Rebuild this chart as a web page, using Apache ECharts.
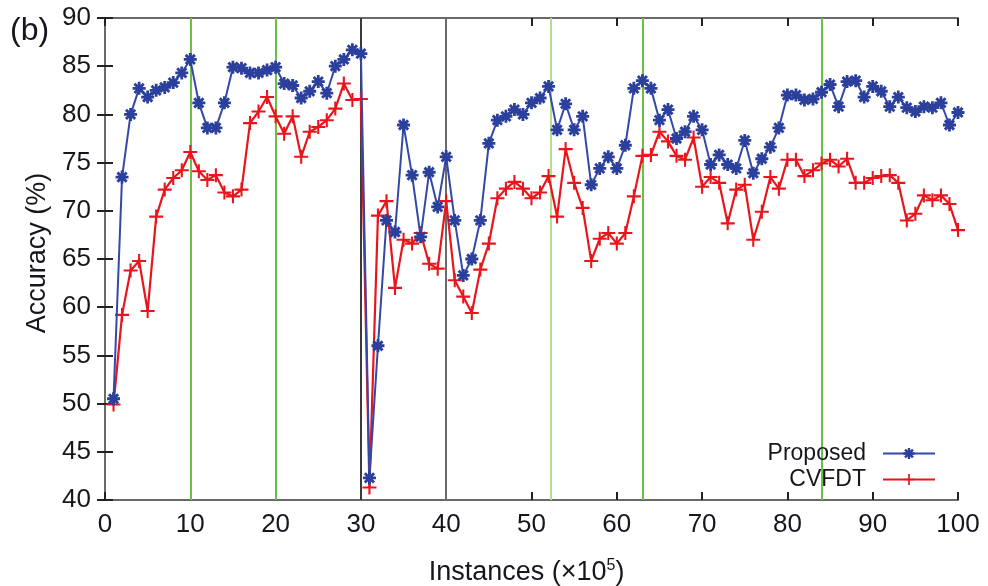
<!DOCTYPE html>
<html>
<head>
<meta charset="utf-8">
<script src="https://cdn.jsdelivr.net/npm/echarts@6/dist/echarts.min.js"></script>
<style>
  html, body { margin: 0; padding: 0; background: #fff; }
  #chart { width: 988px; height: 586px; }
</style>
</head>
<body>
<div id="chart"></div>
<script>
// x positions (×10^5 instances)
const instances = [1,2,3,4,5,6,7,8,9,10,11,12,13,14,15,16,17,18,19,20,
  21,22,23,24,25,26,27,28,29,30,31,32,33,34,35,36,37,38,39,40,
  41,42,43,44,45,46,47,48,49,50,51,52,53,54,55,56,57,58,59,60,
  61,62,63,64,65,66,67,68,69,70,71,72,73,74,75,76,77,78,79,80,
  81,82,83,84,85,86,87,88,89,90,91,92,93,94,95,96,97,98,99,100];

const proposed = [50.5,73.5,80.0,82.7,81.8,82.5,82.8,83.3,84.3,85.7,
  81.2,78.6,78.6,81.2,84.9,84.8,84.3,84.3,84.6,84.9,
  83.2,83.0,81.7,82.4,83.4,82.2,85.0,85.7,86.7,86.3,
  42.3,56.0,69.0,67.8,78.9,73.7,67.3,74.0,70.4,75.6,
  69.0,63.3,65.0,69.0,77.0,79.4,79.8,80.5,80.0,81.2,
  81.7,82.9,78.4,81.1,78.4,79.8,72.7,74.4,75.6,74.4,
  76.8,82.7,83.5,82.7,79.4,80.5,77.5,78.2,79.8,78.4,
  74.8,75.8,74.8,74.4,77.3,73.9,75.4,76.6,78.6,82.0,
  82.0,81.5,81.6,82.3,83.1,80.8,83.4,83.5,81.8,82.9,
  82.4,80.8,81.8,80.7,80.3,80.8,80.7,81.2,78.9,80.2];

const cvfdt = [49.9,59.2,63.8,64.8,59.6,69.4,72.2,73.4,74.2,76.1,
  74.1,73.2,73.7,71.9,71.5,72.2,79.1,80.3,81.8,79.8,
  78.0,79.8,75.6,78.2,78.7,79.4,80.6,83.2,81.5,81.6,
  41.3,69.5,71.0,62.0,67.0,66.6,67.7,64.5,64.0,71.0,
  62.8,61.1,59.4,63.9,66.6,71.3,72.3,73.0,72.3,71.3,
  71.9,73.6,69.4,76.4,72.9,70.3,64.8,67.1,67.7,66.6,
  67.7,71.5,75.7,75.8,78.2,77.2,75.7,75.3,77.6,72.5,
  73.5,72.9,68.7,72.2,72.7,67.0,69.9,73.5,72.3,75.3,
  75.3,73.6,74.2,74.9,75.3,74.6,75.4,72.9,72.9,73.4,
  73.6,73.7,72.9,69.0,69.7,71.6,71.1,71.6,70.7,68.0];

// vertical reference lines (drift points)
const driftX = [10, 20, 30, 40, 52.2, 63, 84];
const driftColors = ['#6cbf45', '#6cbf45', '#3a3a3a', '#6a6a6a', '#b2df95', '#6cbf45', '#6cbf45'];

const seriesNames = ['Proposed', 'CVFDT'];
const xTicks = { min: 0, max: 100, step: 10 };
const yTicks = { min: 40, max: 90, step: 5 };

const FONT = "'Liberation Sans', Arial, sans-serif";
const TXT = '#16161e';
const asterisk = 'path://M-1.3,-6L1.3,-6L1.3,6L-1.3,6Z M-6,-1.3L6,-1.3L6,1.3L-6,1.3Z M-5.2,-3.3L-3.3,-5.2L5.2,3.3L3.3,5.2Z M3.3,-5.2L5.2,-3.3L-3.3,5.2L-5.2,3.3Z';
const plus = 'path://M-0.9,-6L0.9,-6L0.9,6L-0.9,6Z M-6,-0.9L6,-0.9L6,0.9L-6,0.9Z';

const chart = echarts.init(document.getElementById('chart'), null, { renderer: 'canvas' });

const axisLineStyle = { color: '#6a6a6a', width: 2 };
const tickStyle = { color: '#222', width: 2 };

const option = {
  animation: false,
  backgroundColor: '#fff',
  textStyle: { fontFamily: FONT },
  grid: { left: 105, right: 30, top: 18, bottom: 86, containLabel: false, outerBoundsMode: 'none' },
  graphic: [{
    type: 'text', left: 10, top: 15,
    style: { text: '(b)', fontSize: 32, fontFamily: FONT, fill: TXT }
  }],
  legend: {
    data: seriesNames,
    orient: 'vertical',
    right: 52, top: 442,
    padding: 0,
    align: 'right',
    itemWidth: 52, itemHeight: 14, itemGap: 3,
    textStyle: { fontSize: 23, color: TXT, fontFamily: FONT, padding: [0, 12, 0, 0] }
  },
  xAxis: [{
    type: 'value', position: 'bottom',
    min: xTicks.min, max: xTicks.max, interval: xTicks.step,
    axisLine: { show: true, lineStyle: axisLineStyle },
    axisTick: { show: true, inside: true, length: 8, lineStyle: tickStyle },
    axisLabel: { fontSize: 26, color: TXT, margin: 12, fontFamily: FONT },
    splitLine: { show: false },
    name: 'Instances (×10{sup|5})',
    nameLocation: 'middle', nameGap: 58,
    nameTextStyle: {
      fontSize: 27, color: TXT, fontFamily: FONT, padding: [0, 10, 0, 0],
      rich: { sup: { fontSize: 16, color: TXT, fontFamily: FONT, padding: [0, 0, 14, 0] } }
    }
  }, {
    type: 'value', position: 'top',
    min: xTicks.min, max: xTicks.max, interval: xTicks.step,
    axisLine: { show: true, lineStyle: axisLineStyle },
    axisTick: { show: true, inside: true, length: 8, lineStyle: tickStyle },
    axisLabel: { show: false },
    splitLine: { show: false }
  }],
  yAxis: [{
    type: 'value', position: 'left',
    min: yTicks.min, max: yTicks.max, interval: yTicks.step,
    axisLine: { show: true, lineStyle: axisLineStyle },
    axisTick: { show: true, inside: true, length: 8, lineStyle: tickStyle },
    axisLabel: { fontSize: 26, color: TXT, margin: 14, fontFamily: FONT },
    splitLine: { show: false },
    name: 'Accuracy (%)',
    nameLocation: 'middle', nameRotate: 90, nameGap: 48,
    nameTextStyle: { fontSize: 27, color: TXT, fontFamily: FONT, padding: [0, 0, 0, 12] }
  }, {
    type: 'value', position: 'right',
    min: yTicks.min, max: yTicks.max, interval: yTicks.step,
    axisLine: { show: true, lineStyle: axisLineStyle },
    axisTick: { show: true, inside: true, length: 8, lineStyle: tickStyle },
    axisLabel: { show: false },
    splitLine: { show: false }
  }],
  series: [{
    name: 'Proposed', type: 'line', z: 4,
    data: instances.map((x, i) => [x, proposed[i]]),
    symbol: asterisk, symbolSize: 13,
    lineStyle: { color: '#3448a8', width: 2 },
    itemStyle: { color: '#2b3f9c' },
    emphasis: { disabled: true }
  }, {
    name: 'CVFDT', type: 'line', z: 3,
    data: instances.map((x, i) => [x, cvfdt[i]]),
    symbol: plus, symbolSize: 14,
    lineStyle: { color: '#e8161c', width: 2.2 },
    itemStyle: { color: '#e8161c' },
    emphasis: { disabled: true },
    markLine: {
      silent: true, z: 1, animation: false,
      symbol: ['none', 'none'],
      label: { show: false },
      emphasis: { disabled: true },
      data: driftX.map((x, i) => ({ xAxis: x, lineStyle: { color: driftColors[i], width: 2, type: 'solid' } }))
    }
  }]
};

chart.setOption(option);
</script>
</body>
</html>
